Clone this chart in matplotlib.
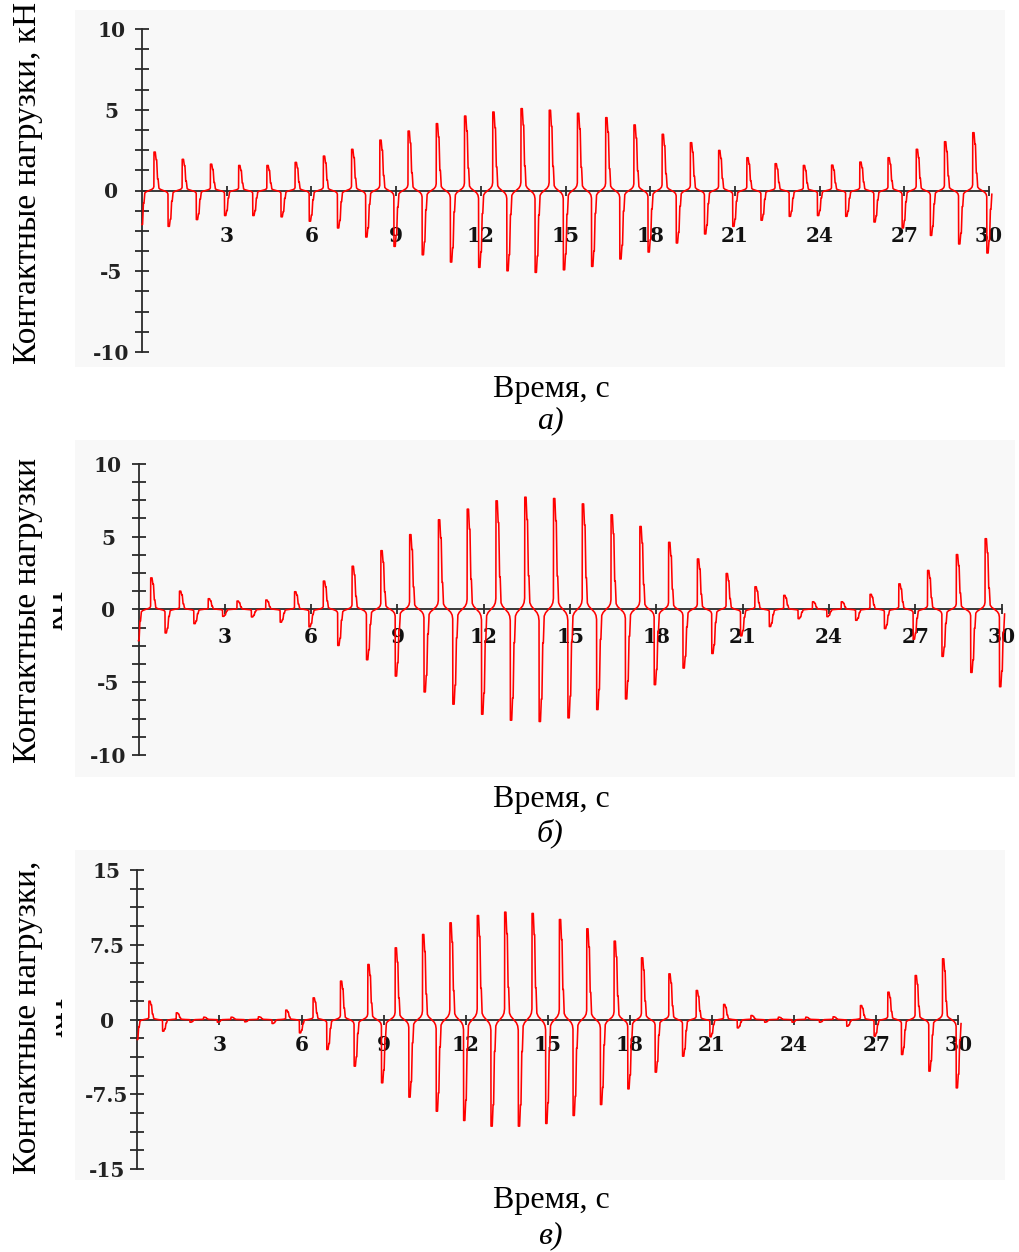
import numpy as np
import matplotlib
matplotlib.use('Agg')
import matplotlib.pyplot as plt
from matplotlib.ticker import MultipleLocator
from matplotlib.patches import Rectangle
from matplotlib.transforms import Bbox

plt.rcParams['font.family'] = ['Liberation Serif', 'DejaVu Serif']

W, H = 1019, 1252

# ---------------- data ----------------
t_pos = np.arange(0.5, 30.0, 1.0)   # times of positive peaks, s
t_neg = np.arange(0.0, 30.5, 1.0)   # times of negative peaks, s

pos_a = [2.38, 1.93, 1.63, 1.55, 1.55, 1.74, 2.13, 2.55, 3.12, 3.68, 4.14, 4.61, 4.86, 5.07, 4.97,
         4.78, 4.51, 4.06, 3.48, 2.96, 2.48, 2.03, 1.66, 1.55, 1.57, 1.76, 2.03, 2.55, 3.02, 3.58]
neg_a = [-2.63, -2.22, -1.80, -1.55, -1.55, -1.63, -1.90, -2.32, -2.88, -3.46, -3.98, -4.43, -4.76,
         -4.97, -5.07, -4.91, -4.70, -4.24, -3.81, -3.25, -2.69, -2.22, -1.84, -1.60, -1.55, -1.60,
         -1.95, -2.32, -2.78, -3.31, -3.87]

pos_b = [2.16, 1.25, 0.73, 0.57, 0.64, 1.21, 1.94, 2.96, 4.03, 5.13, 6.15, 6.88, 7.45, 7.70, 7.61,
         7.24, 6.49, 5.69, 4.60, 3.46, 2.46, 1.55, 0.96, 0.52, 0.52, 1.03, 1.75, 2.67, 3.76, 4.85]
neg_b = [-2.69, -1.62, -0.98, -0.48, -0.52, -0.88, -1.20, -2.48, -3.46, -4.58, -5.67, -6.51, -7.20,
         -7.61, -7.70, -7.45, -6.88, -6.15, -5.17, -4.03, -3.03, -1.82, -1.18, -0.64, -0.50, -0.75,
         -1.32, -2.05, -3.23, -4.33, -5.31]

pos_c = [1.84, 0.67, 0.23, 0.23, 0.27, 0.94, 2.17, 3.85, 5.52, 7.19, 8.53, 9.70, 10.43, 10.77, 10.64,
         10.03, 9.10, 7.86, 6.19, 4.58, 2.91, 1.51, 0.40, 0.23, 0.23, 0.27, 1.40, 2.74, 4.41, 6.09]
neg_c = [-2.51, -1.17, -0.27, -0.27, -0.23, -0.40, -1.34, -3.01, -4.68, -6.35, -7.79, -9.20, -10.13,
         -10.70, -10.70, -10.43, -9.63, -8.53, -6.96, -5.28, -3.68, -1.74, -0.84, -0.27, -0.27, -0.27,
         -0.67, -1.67, -3.51, -5.18, -6.86]

xtick_vals = [3, 6, 9, 12, 15, 18, 21, 24, 27, 30]
xtick_labels = ['3', '6', '9', '12', '15', '18', '21', '24', '27', '30']
ytick_ab = [-10, -5, 0, 5, 10]
ytick_ab_labels = ['-10', '-5', '0', '5', '10']
ytick_c = [-15, -7.5, 0, 7.5, 15]
ytick_c_labels = ['-15', '-7.5', '0', '7.5', '15']

ylabel_a = 'Контактные нагрузки, кН'
ylabel_b = 'Контактные нагрузки'
ylabel_c = 'Контактные нагрузки,'
ylabel_unit = 'кН'
xlabel = 'Время, с'
captions = ['а)', 'б)', 'в)']

# shape of one contact pulse (offset in s, fraction of the peak)
pulse_dt = [-0.25, -0.15, -0.10, -0.08, -0.075, -0.03, 0.0, 0.02, 0.05, 0.07, 0.10, 0.15, 0.25]
pulse_fr = [0.0, 0.03, 0.06, 0.10, 1.0, 1.0, 0.80, 0.80, 0.30, 0.30, 0.06, 0.03, 0.0]


def build_signal(pos, neg):
    events = sorted(list(zip(t_pos, pos)) + list(zip(t_neg, neg)))
    ts, ys = [], []
    for c, a in events:
        for d, f in zip(pulse_dt, pulse_fr):
            ts.append(c + d)
            ys.append(a * f)
    ts = np.array(ts)
    ys = np.array(ys)
    keep = (ts >= 0) & (ts <= 30.12)
    return ts[keep], ys[keep]


fig = plt.figure(figsize=(W / 100, H / 100), dpi=100)


def fx(x):
    return x / W


def fy(y):
    return 1 - y / H


# faint grey backgrounds (scanned panels)
for (x0, y0, x1, y1) in [(75, 10, 1005, 367), (75, 440, 1015, 777), (75, 850, 1005, 1180)]:
    fig.patches.append(Rectangle((fx(x0), fy(y1)), fx(x1 - x0), (y1 - y0) / H,
                                 transform=fig.transFigure, facecolor='#f8f8f8',
                                 edgecolor='none', zorder=-5))

panels = [
    dict(pos=pos_a, neg=neg_a, box=(142, 989, 29, 352), ylim=(-10, 10), yt=ytick_ab,
         ytl=ytick_ab_labels, minor=1.25, xpad=22.0),
    dict(pos=pos_b, neg=neg_b, box=(138.5, 1001.7, 463.7, 755), ylim=(-10, 10), yt=ytick_ab,
         ytl=ytick_ab_labels, minor=1.25, xpad=9.5),
    dict(pos=pos_c, neg=neg_c, box=(137.3, 958.3, 870, 1169), ylim=(-15, 15), yt=ytick_c,
         ytl=ytick_c_labels, minor=1.875, xpad=7.5),
]

tick_font = dict(family='DejaVu Serif', fontweight='bold', fontsize=14.5)
axcol = '#2a2a2a'
for p in panels:
    l, r, t, b = p['box']
    ax = fig.add_axes([fx(l), fy(b), (r - l) / W, (b - t) / H])
    ax.set_facecolor('none')
    ax.set_xlim(0, 30)
    ax.set_ylim(*p['ylim'])
    ts, ys = build_signal(p['pos'], p['neg'])
    ax.plot(ts, ys, color='#ff0000', lw=1.15, clip_on=False, zorder=3)
    for s in ['top', 'right']:
        ax.spines[s].set_visible(False)
    ax.spines['bottom'].set_position(('data', 0))
    ax.spines['left'].set_position(('data', 0))
    for s in ['bottom', 'left']:
        ax.spines[s].set_color(axcol)
        ax.spines[s].set_linewidth(1.3)
        ax.spines[s].set_zorder(2)
    ax.set_xticks(xtick_vals)
    ax.set_xticklabels(xtick_labels, color='#111111', **tick_font)
    ax.set_yticks(p['yt'])
    ax.set_yticklabels(p['ytl'], color='#222222', **tick_font)
    for lab in ax.get_yticklabels():
        lab.set_horizontalalignment('center')
    ax.yaxis.set_minor_locator(MultipleLocator(p['minor']))
    ax.tick_params(axis='y', which='both', direction='inout', length=10, width=1.3,
                   color=axcol, pad=17)
    ax.tick_params(axis='x', which='major', direction='inout', length=7, width=1.3,
                   color=axcol, pad=p['xpad'])

# axis titles and captions
txt_kw = dict(fontsize=24, color='black')
fig.text(fx(36), fy(183), ylabel_a, rotation=90, rotation_mode='anchor',
         ha='center', va='baseline', **txt_kw)
fig.text(fx(36), fy(610), ylabel_b, rotation=90, rotation_mode='anchor',
         ha='center', va='baseline', **txt_kw)
fig.text(fx(36), fy(1017), ylabel_c, rotation=90, rotation_mode='anchor',
         ha='center', va='baseline', **txt_kw)
for yc, xclip in [(610, 53), (1017, 56)]:
    tt = fig.text(fx(62), fy(yc), ylabel_unit, rotation=90, rotation_mode='anchor',
                  ha='center', va='baseline', **txt_kw)
    tt.set_clip_box(Bbox.from_extents(xclip, 0, 200, H))
    tt.set_clip_on(True)

cap_kw = dict(fontsize=23, color='black')
for yb in [397, 807, 1208]:
    fig.text(fx(551), fy(yb), xlabel, ha='center', va='baseline', **cap_kw)
for yc, cap in zip([421, 833, 1236], captions):
    fig.text(fx(550), fy(yc), cap, ha='center', va='center', style='italic', **cap_kw)

fig.savefig('out.png', dpi=100, facecolor='white')
